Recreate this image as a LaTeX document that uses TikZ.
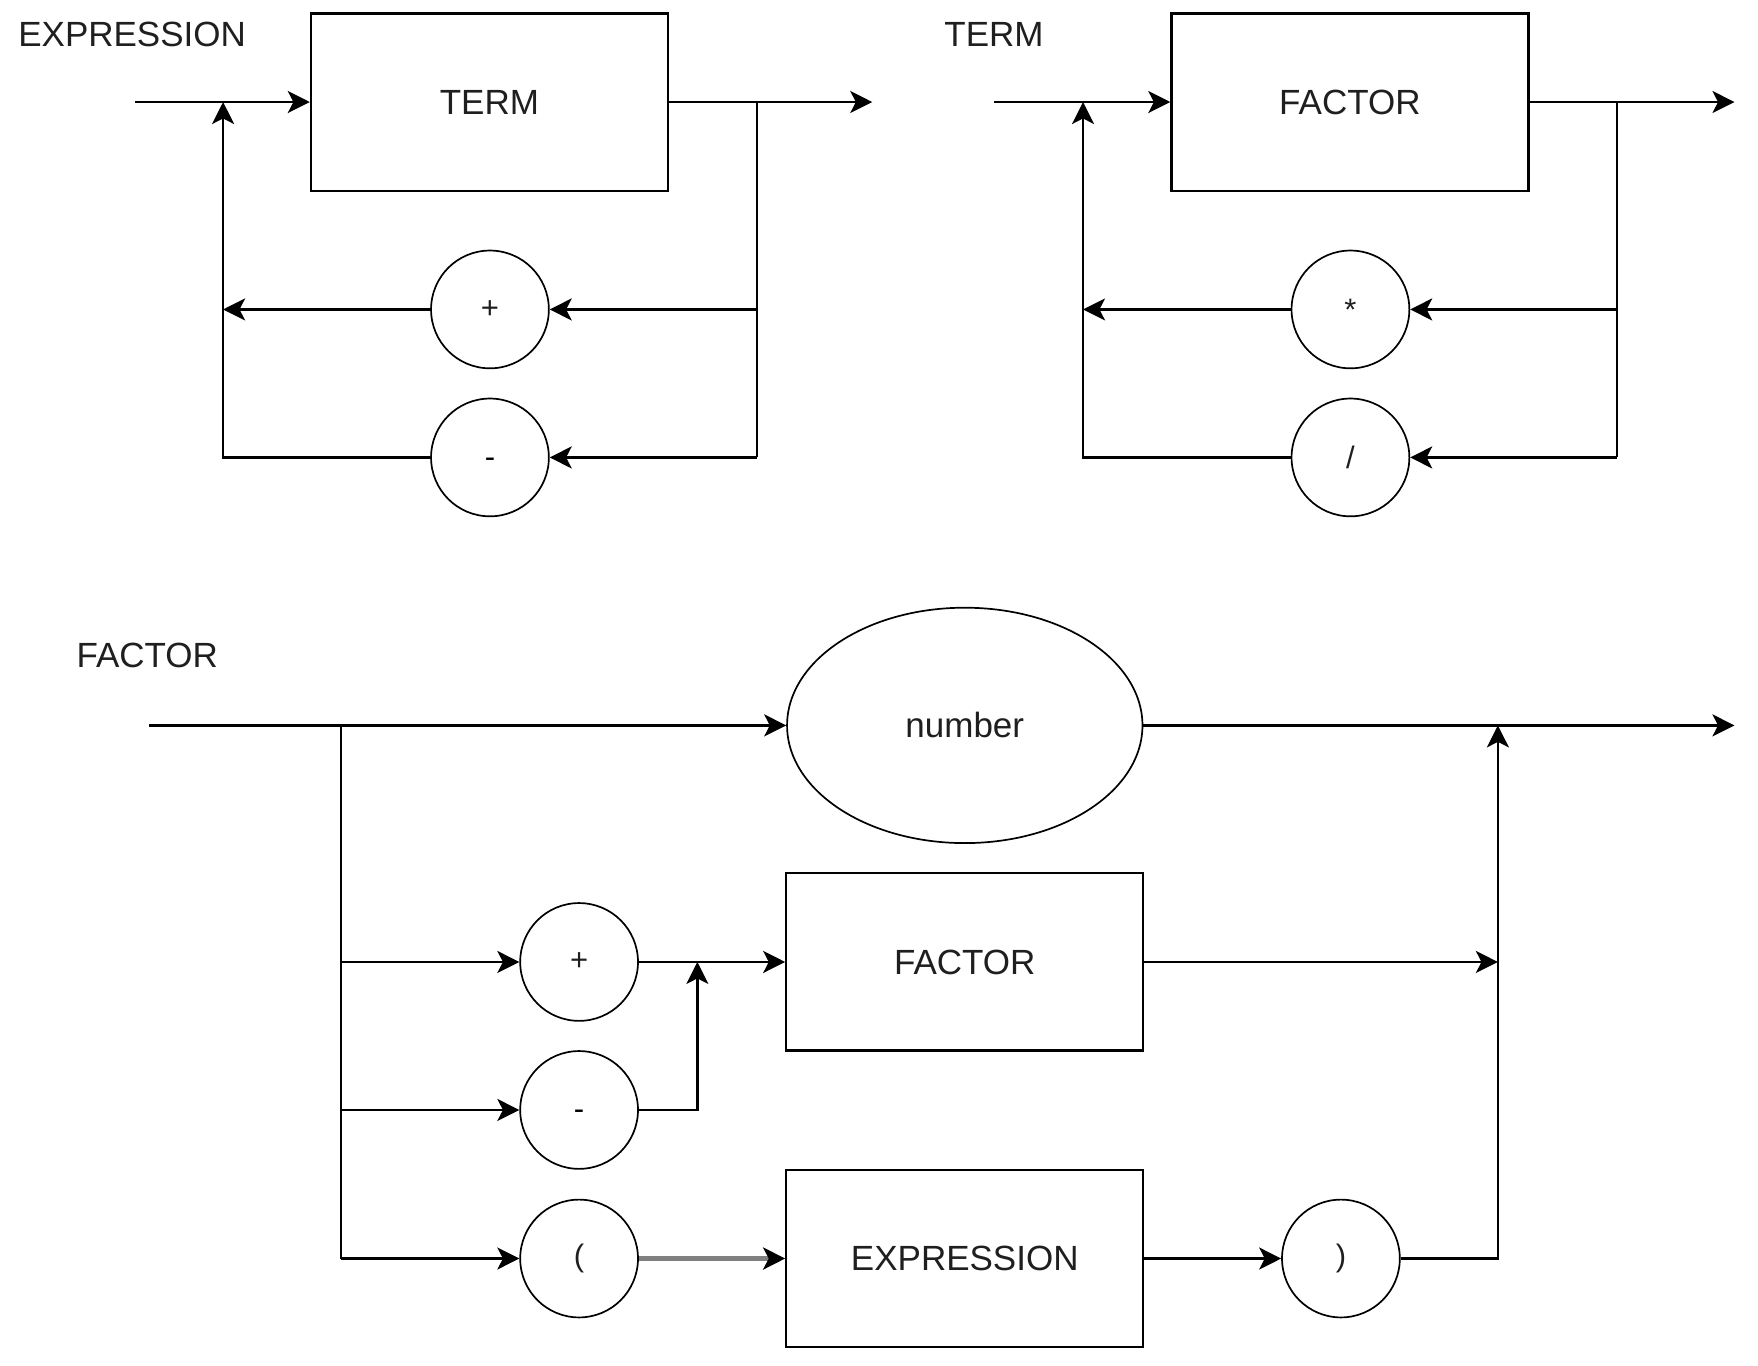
\documentclass[tikz,border=0pt]{standalone}
\usepackage{fontspec}
\setmainfont{Liberation Sans}
\usetikzlibrary{arrows.meta,shapes.geometric}

\tikzset{
  conn/.style={line width=1.2pt, draw=black},
  tip/.style={-{Stealth[length=11pt, width=11pt, inset=2.8pt, #1]}},
  tip/.default=black,
  arr/.style={conn, tip},
  lbl/.style={anchor=west, inner sep=0pt, font=\fontsize{17.5}{20}\selectfont, text=black!88},
  rulebox/.style={draw, line width=1.1pt, minimum width=178.5pt, minimum height=88.6pt,
                  inner sep=0pt, font=\fontsize{17.5}{20}\selectfont, text=black!88},
  tok/.style={draw, circle, line width=0.85pt, minimum size=58.9pt, inner sep=0pt,
              font=\fontsize{15.5}{18}\selectfont, text=black!88},
  dash sign/.style={text depth=0pt, yshift=-2.5pt},
  term/.style={draw, ellipse, line width=0.85pt, minimum width=177.7pt, minimum height=117.7pt,
               inner sep=0pt, font=\fontsize{17.5}{20}\selectfont, text=black!88}
}

\begin{document}
\begin{tikzpicture}[x=0.5606pt, y=-0.5606pt]
\useasboundingbox (0,0) rectangle (1568,1218);

% ---------- EXPRESSION ----------
\node[lbl] (lexpr) at (16,31) {EXPRESSION};
\node[rulebox] (eterm) at (436.5,91) {TERM};
\node[tok] (eplus) at (437,276) {+};
\node[tok] (eminus) at (437,408) {};
\node[dash sign, font=\fontsize{15.5}{18}\selectfont] (eminust) at (eminus) {-};
\coordinate (ein) at (120,91);
\coordinate (eout) at (778,91);
\coordinate (ejoin) at (199,91);
\coordinate (esplit) at (675,91);

\draw[arr] (ein) -- (eterm.west);
\draw[arr] (eterm.east) -- (eout);
\draw[conn] (esplit) -- (675,408);
\draw[arr] (675,276) -- (eplus.east);
\draw[arr] (675,408) -- (eminus.east);
\draw[arr] (eplus.west) -- (199,276);
\draw[arr] (eminus.west) -- (199,408) -- (ejoin);

% ---------- TERM ----------
\node[lbl] (lterm) at (842,31) {TERM};
\node[rulebox] (tfactor) at (1204,91) {FACTOR};
\node[tok] (tmul) at (1204.5,276) {*};
\node[tok] (tdiv) at (1204.5,408) {/};
\coordinate (tin) at (887,91);
\coordinate (tout) at (1547,91);
\coordinate (tjoin) at (966,91);
\coordinate (tsplit) at (1442,91);

\draw[arr] (tin) -- (tfactor.west);
\draw[arr] (tfactor.east) -- (tout);
\draw[conn] (tsplit) -- (1442,408);
\draw[arr] (1442,276) -- (tmul.east);
\draw[arr] (1442,408) -- (tdiv.east);
\draw[arr] (tmul.west) -- (966,276);
\draw[arr] (tdiv.west) -- (966,408) -- (tjoin);

% ---------- FACTOR ----------
\node[lbl] (lfactor) at (68,585) {FACTOR};
\node[term] (num) at (860.5,647) {number};
\node[rulebox] (ffactor) at (860.5,858) {FACTOR};
\node[rulebox] (fexpr) at (860.5,1122.5) {EXPRESSION};
\node[tok] (fplus) at (516.5,858) {+};
\node[tok] (fminus) at (516.5,990) {};
\node[dash sign, font=\fontsize{15.5}{18}\selectfont] (fminust) at (fminus) {-};
\node[tok] (flpar) at (516.5,1122.5) {(};
\node[tok] (frpar) at (1196,1122.5) {)};
\coordinate (fin) at (133,647);
\coordinate (fout) at (1547,647);
\coordinate (fsplit) at (304,647);
\coordinate (fjoin) at (1336,647);
\coordinate (fsign) at (622,858);
\coordinate (fmerge) at (1336,858);

\draw[arr] (fin) -- (num.west);
\draw[arr] (num.east) -- (fout);
\draw[conn] (fsplit) -- (304,1122.5);
\draw[arr] (304,858) -- (fplus.west);
\draw[arr] (304,990) -- (fminus.west);
\draw[arr] (304,1122.5) -- (flpar.west);
\draw[arr] (fplus.east) -- (ffactor.west);
\draw[arr] (fminus.east) -- (622,990) -- (fsign);
\draw[arr] (ffactor.east) -- (fmerge);
\draw[line width=2.1pt, draw=black!50, tip=black] (flpar.east) -- (fexpr.west);
\draw[arr] (fexpr.east) -- (frpar.west);
\draw[arr] (frpar.east) -- (1336,1122.5) -- (fjoin);
\end{tikzpicture}
\end{document}
